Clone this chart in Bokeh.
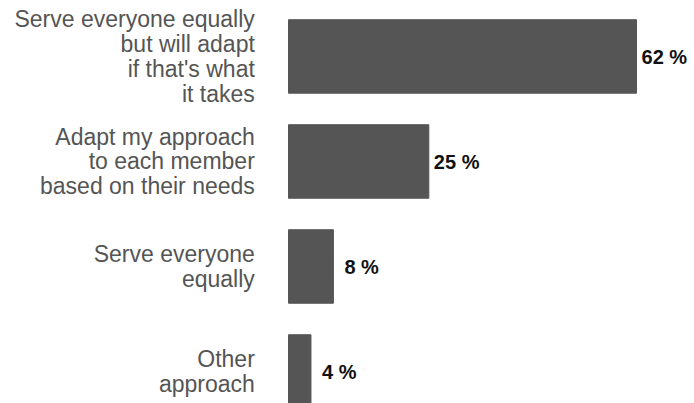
from bokeh.plotting import figure
from bokeh.models import Range1d, ColumnDataSource
from bokeh.core.properties import value
from bokeh.embed import file_html
from bokeh.resources import INLINE

categories = [
    "Serve everyone equally\nbut will adapt\nif that's what\nit takes",
    "Adapt my approach\nto each member\nbased on their needs",
    "Serve everyone\nequally",
    "Other\napproach",
]
percentages = [62, 25, 8, 4]
value_labels = ["62 %", "25 %", "8 %", "4 %"]

positions = list(range(len(categories)))

src = ColumnDataSource(dict(
    y=positions,
    pct=percentages,
    cat=categories,
    lab=value_labels,
    lab_off=[5 if v >= 20 else 11 for v in percentages],
    cat_x=[-6.0] * len(categories),
))

p = figure(width=694, height=403, output_backend="svg", toolbar_location=None,
           x_range=Range1d(-51.31, 72.33), y_range=Range1d(3.305, -0.533),
           min_border=0, outline_line_color=None)
p.axis.visible = False
p.grid.visible = False
p.background_fill_color = "white"

p.hbar(y="y", left=0, right="pct", height=0.70, source=src,
       fill_color="#555555", line_color="#555555")

p.text(x="cat_x", y="y", text="cat", source=src, text_align="right",
       text_baseline="middle", text_font=value("Liberation Sans"),
       text_font_size="23px", text_color="#555555", text_line_height=0.95)

p.text(x="pct", y="y", text="lab", source=src, x_offset="lab_off", y_offset=1,
       text_align="left", text_baseline="middle",
       text_font=value("Liberation Sans"),
       text_font_size="20px", text_font_style="bold", text_color="#111111")

open("out.html", "w").write(file_html(p, INLINE))
